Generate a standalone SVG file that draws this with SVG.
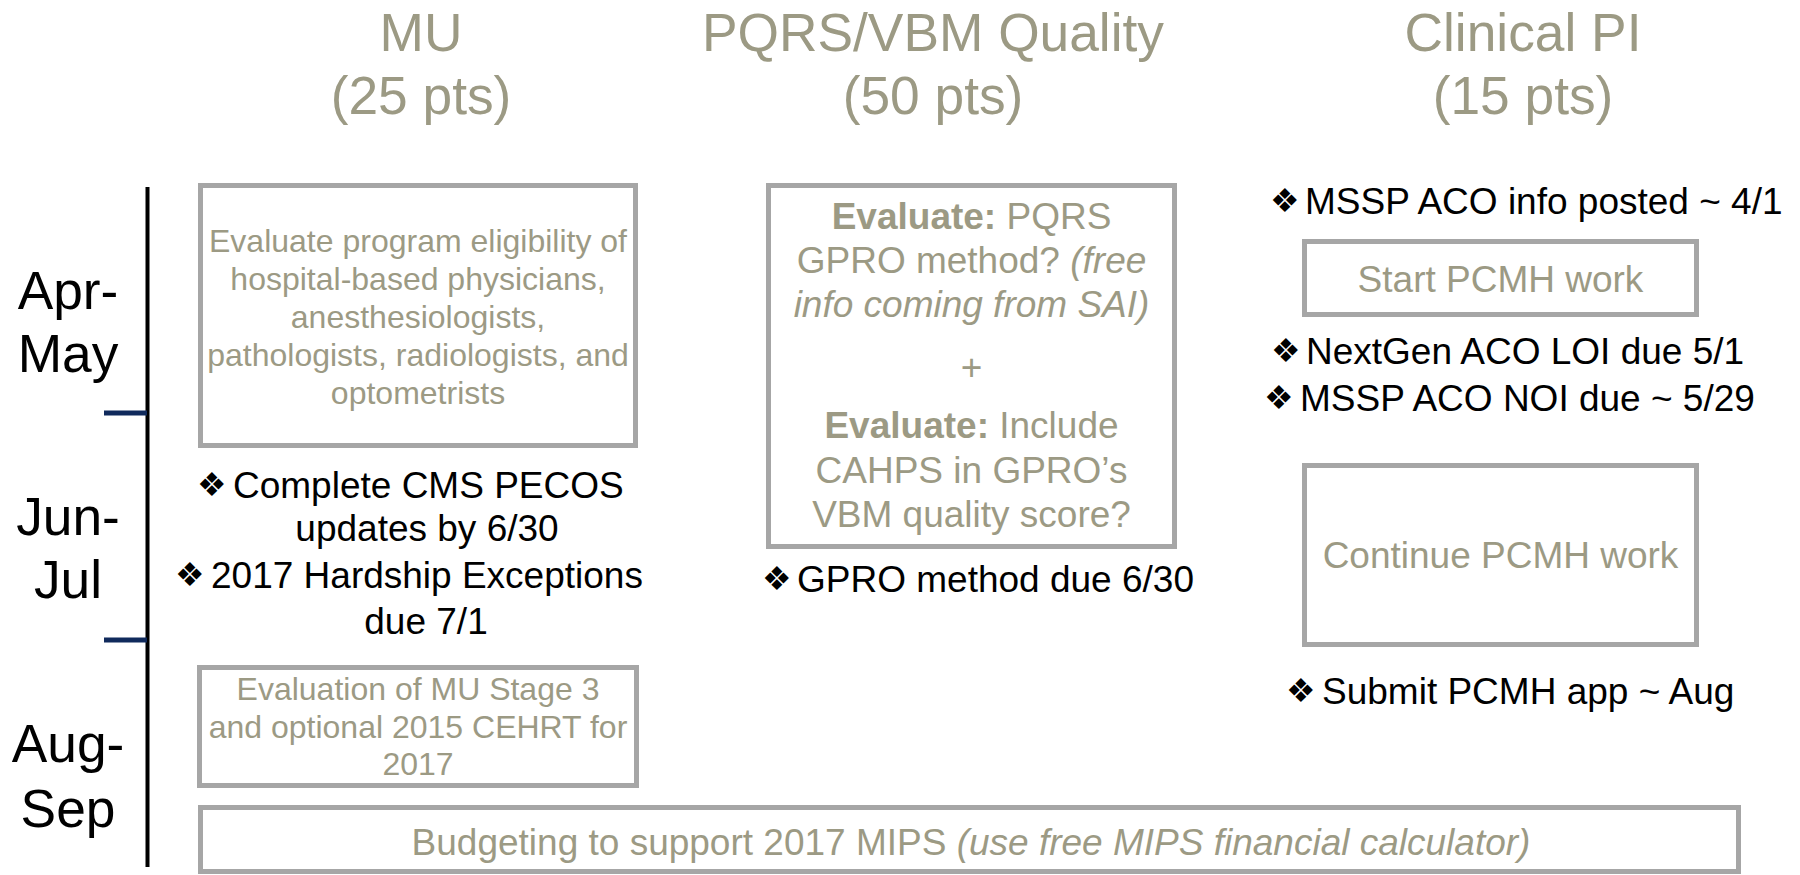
<svg xmlns="http://www.w3.org/2000/svg" width="1800" height="875" viewBox="0 0 1800 875">
<defs>
<style>
text{font-family:"Liberation Sans",Arial,sans-serif}
.hdr{font-size:53.3px;fill:#9C9A84;text-anchor:middle}
.lbl{font-size:53.3px;fill:#000;text-anchor:middle}
.box{fill:#fff;stroke:#A6A6A6;stroke-width:5}
.bt{fill:#9C9A84;text-anchor:middle}
.s32{font-size:32px}
.s37{font-size:37px}
.blk{font-size:37px;fill:#000}
.bul{font-family:"DejaVu Sans",sans-serif;font-size:33px;fill:#000}
.b{font-weight:bold}
.i{font-style:italic}
</style>
</defs>
<rect width="1800" height="875" fill="#fff"/>

<g id="headers">
<text class="hdr" x="421" y="51">MU</text>
<text class="hdr" x="421" y="114">(25 pts)</text>
<text class="hdr" x="933" y="51">PQRS/VBM Quality</text>
<text class="hdr" x="933" y="114">(50 pts)</text>
<text class="hdr" x="1523" y="51">Clinical PI</text>
<text class="hdr" x="1523" y="114">(15 pts)</text>
</g>

<g id="timeline">
<line x1="147.5" y1="187" x2="147.5" y2="867" stroke="#000" stroke-width="4"/>
<line x1="104" y1="413" x2="147" y2="413" stroke="#102A5C" stroke-width="5"/>
<line x1="104" y1="640" x2="147" y2="640" stroke="#102A5C" stroke-width="5"/>
<text class="lbl" x="68" y="309">Apr-</text>
<text class="lbl" x="68" y="372">May</text>
<text class="lbl" x="68" y="535">Jun-</text>
<text class="lbl" x="68" y="598">Jul</text>
<text class="lbl" x="68" y="762">Aug-</text>
<text class="lbl" x="68" y="827">Sep</text>
</g>

<g id="mu-eligibility">
<rect class="box" x="200.5" y="185.5" width="435" height="260"/>
<text class="bt s32" x="418"><tspan x="418" y="252">Evaluate program eligibility of</tspan><tspan x="418" y="290">hospital-based physicians,</tspan><tspan x="418" y="328">anesthesiologists,</tspan><tspan x="418" y="366">pathologists, radiologists, and</tspan><tspan x="418" y="404">optometrists</tspan></text>
</g>

<g id="mu-bullets">
<text class="bul" x="197" y="496">❖</text>
<text class="blk" x="233" y="498">Complete CMS PECOS</text>
<text class="blk" x="427" y="541" text-anchor="middle">updates by 6/30</text>
<text class="bul" x="175" y="586">❖</text>
<text class="blk" x="211" y="588">2017 Hardship Exceptions</text>
<text class="blk" x="426" y="634" text-anchor="middle">due 7/1</text>
</g>

<g id="mu-stage3">
<rect class="box" x="199.5" y="667.5" width="437" height="118"/>
<text class="bt s32" x="418"><tspan x="418" y="700">Evaluation of MU Stage 3</tspan><tspan x="418" y="738">and optional 2015 CEHRT for</tspan><tspan x="418" y="775">2017</tspan></text>
</g>

<g id="pqrs-evaluate">
<rect class="box" x="768.5" y="185.5" width="406" height="361"/>
<text class="bt s37" x="971.5" y="229"><tspan class="b">Evaluate:</tspan> PQRS</text>
<text class="bt s37" x="971.5" y="273">GPRO method? <tspan class="i">(free</tspan></text>
<text class="bt s37 i" x="971.5" y="317">info coming from SAI)</text>
<text class="bt s37" x="971.5" y="380">+</text>
<text class="bt s37" x="971.5" y="438"><tspan class="b">Evaluate:</tspan> Include</text>
<text class="bt s37" x="971.5" y="483">CAHPS in GPRO’s</text>
<text class="bt s37" x="971.5" y="527">VBM quality score?</text>
</g>

<g id="pqrs-bullet">
<text class="bul" x="762" y="590">❖</text>
<text class="blk" x="797" y="592">GPRO method due 6/30</text>
</g>

<g id="clinical-bullets-1">
<text class="bul" x="1270" y="212">❖</text>
<text class="blk" x="1305" y="214">MSSP ACO info posted ~ 4/1</text>
</g>

<g id="start-pcmh">
<rect class="box" x="1304.5" y="241.5" width="392" height="73"/>
<text class="bt s37" x="1500.5" y="292">Start PCMH work</text>
</g>

<g id="clinical-bullets-2">
<text class="bul" x="1271" y="362">❖</text>
<text class="blk" x="1306" y="364">NextGen ACO LOI due 5/1</text>
<text class="bul" x="1264" y="409">❖</text>
<text class="blk" x="1300" y="411">MSSP ACO NOI due ~ 5/29</text>
</g>

<g id="continue-pcmh">
<rect class="box" x="1304.5" y="465.5" width="392" height="179"/>
<text class="bt s37" x="1500.5" y="568">Continue PCMH work</text>
</g>

<g id="clinical-bullets-3">
<text class="bul" x="1286" y="702">❖</text>
<text class="blk" x="1322" y="704">Submit PCMH app ~ Aug</text>
</g>

<g id="budgeting">
<rect class="box" x="200.5" y="807.5" width="1538" height="64"/>
<text class="bt s37" x="971" y="855">Budgeting to support 2017 MIPS <tspan class="i">(use free MIPS financial calculator)</tspan></text>
</g>

<g id="connectors"></g>
</svg>
